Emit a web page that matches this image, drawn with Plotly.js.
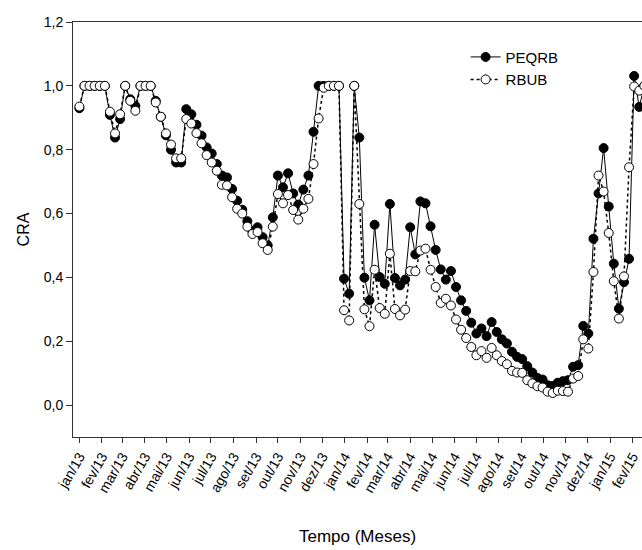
<!DOCTYPE html>
<html>
<head>
<meta charset="utf-8">
<script src="https://cdn.plot.ly/plotly-3.0.1.min.js"></script>
<style>html,body{margin:0;padding:0;background:#fff;overflow:hidden}</style>
</head>
<body>
<div id="chart" style="width:642px;height:550px"></div>
<script>
// Weekly sampling dates
const dates = [
 '2013-01-01','2013-01-08','2013-01-15','2013-01-22','2013-01-29',
 '2013-02-05','2013-02-12','2013-02-19','2013-02-26',
 '2013-03-05','2013-03-12','2013-03-19','2013-03-26',
 '2013-04-02','2013-04-09','2013-04-16','2013-04-23','2013-04-30',
 '2013-05-07','2013-05-14','2013-05-21','2013-05-28',
 '2013-06-04','2013-06-11','2013-06-18','2013-06-25',
 '2013-07-02','2013-07-09','2013-07-16','2013-07-23','2013-07-30',
 '2013-08-06','2013-08-13','2013-08-20','2013-08-27',
 '2013-09-03','2013-09-10','2013-09-17','2013-09-24',
 '2013-10-01','2013-10-08','2013-10-15','2013-10-22','2013-10-29',
 '2013-11-05','2013-11-12','2013-11-19','2013-11-26',
 '2013-12-03','2013-12-10','2013-12-17','2013-12-24','2013-12-31',
 '2014-01-07','2014-01-14','2014-01-21','2014-01-28',
 '2014-02-04','2014-02-11','2014-02-18','2014-02-25',
 '2014-03-04','2014-03-11','2014-03-18','2014-03-25',
 '2014-04-01','2014-04-08','2014-04-15','2014-04-22','2014-04-29',
 '2014-05-06','2014-05-13','2014-05-20','2014-05-27',
 '2014-06-03','2014-06-10','2014-06-17','2014-06-24',
 '2014-07-01','2014-07-08','2014-07-15','2014-07-22','2014-07-29',
 '2014-08-05','2014-08-12','2014-08-19','2014-08-26',
 '2014-09-02','2014-09-09','2014-09-16','2014-09-23','2014-09-30',
 '2014-10-07','2014-10-14','2014-10-21','2014-10-28',
 '2014-11-04','2014-11-11','2014-11-18','2014-11-25',
 '2014-12-02','2014-12-09','2014-12-16','2014-12-23','2014-12-30',
 '2015-01-06','2015-01-13','2015-01-20','2015-01-27',
 '2015-02-03','2015-02-10','2015-02-17'
];

const peqrb = [
 0.93,1.0,1.0,1.0,1.0,1.0,0.909,0.838,0.896,1.0,
 0.958,0.937,1.0,1.0,1.0,0.953,0.903,0.845,0.80,0.76,
 0.76,0.927,0.911,0.878,0.844,0.807,0.788,0.755,0.719,0.713,
 0.677,0.64,0.612,0.576,0.545,0.557,0.526,0.50,0.588,0.719,
 0.682,0.726,0.663,0.628,0.675,0.719,0.856,1.0,1.0,1.0,
 1.0,1.0,0.396,0.349,1.0,0.838,0.399,0.328,0.565,0.401,
 0.38,0.63,0.398,0.375,0.393,0.557,0.472,0.638,0.632,0.56,
 0.486,0.425,0.393,0.42,0.37,0.328,0.295,0.258,0.224,0.24,
 0.216,0.26,0.229,0.206,0.193,0.167,0.151,0.144,0.122,0.102,
 0.085,0.08,0.062,0.06,0.07,0.075,0.078,0.12,0.125,0.248,
 0.224,0.521,0.663,0.805,0.622,0.443,0.302,0.385,0.458,1.031,
 0.934,1.0
];

const rbub = [
 0.935,1.0,1.0,1.0,1.0,1.0,0.919,0.851,0.911,1.0,
 0.953,0.922,1.0,1.0,1.0,0.948,0.903,0.851,0.816,0.773,
 0.773,0.896,0.882,0.852,0.82,0.783,0.76,0.734,0.69,0.688,
 0.651,0.615,0.60,0.559,0.536,0.542,0.507,0.486,0.559,0.661,
 0.632,0.658,0.611,0.581,0.615,0.646,0.755,0.898,0.994,1.0,
 1.0,1.0,0.297,0.265,1.0,0.63,0.30,0.247,0.424,0.304,
 0.286,0.474,0.301,0.281,0.299,0.42,0.419,0.484,0.49,0.424,
 0.37,0.32,0.333,0.312,0.268,0.236,0.21,0.182,0.156,0.169,
 0.148,0.179,0.156,0.138,0.128,0.107,0.102,0.101,0.078,0.068,
 0.059,0.055,0.042,0.038,0.045,0.044,0.042,0.083,0.091,0.206,
 0.177,0.417,0.719,0.669,0.539,0.388,0.271,0.403,0.745,0.998,
 0.985,1.0
];

const monthTicks = [
 '2013-01-01','2013-02-01','2013-03-01','2013-04-01','2013-05-01','2013-06-01',
 '2013-07-01','2013-08-01','2013-09-01','2013-10-01','2013-11-01','2013-12-01',
 '2014-01-01','2014-02-01','2014-03-01','2014-04-01','2014-05-01','2014-06-01',
 '2014-07-01','2014-08-01','2014-09-01','2014-10-01','2014-11-01','2014-12-01',
 '2015-01-01','2015-02-01'
];
const monthLabels = [
 'jan/13','fev/13','mar/13','abr/13','mai/13','jun/13','jul/13','ago/13','set/13','out/13','nov/13','dez/13',
 'jan/14','fev/14','mar/14','abr/14','mai/14','jun/14','jul/14','ago/14','set/14','out/14','nov/14','dez/14',
 'jan/15','fev/15'
];

const FONT = 'Liberation Sans, Arial, Helvetica, sans-serif';

const traces = [
 {
  x: dates, y: peqrb, name: 'PEQRB', type: 'scatter', mode: 'lines+markers',
  line: {color: '#000', width: 1},
  marker: {symbol: 'circle', size: 9, color: '#000', line: {color: '#000', width: 1}}
 },
 {
  x: dates, y: rbub, name: 'RBUB', type: 'scatter', mode: 'lines+markers',
  line: {color: '#000', width: 1.5, dash: 'dot'},
  marker: {symbol: 'circle', size: 9, color: '#fff', line: {color: '#000', width: 1}}
 }
];

const layout = {
 width: 642, height: 550,
 margin: {l: 73, r: 0, t: 22, b: 113, pad: 0},
 paper_bgcolor: '#fff', plot_bgcolor: '#fff',
 separators: ',.',
 font: {family: FONT, size: 14, color: '#000'},
 showlegend: true,
 legend: {
  x: 0.69, y: 0.955, xanchor: 'left', yanchor: 'top',
  bgcolor: 'rgba(0,0,0,0)', borderwidth: 0,
  font: {family: FONT, size: 15, color: '#000'},
  tracegroupgap: 0, itemwidth: 30
 },
 xaxis: {
  type: 'date',
  range: ['2012-12-23 05:00', '2015-02-13 19:00'],
  tickmode: 'array', tickvals: monthTicks, ticktext: monthLabels,
  tickangle: -60,
  ticks: 'outside', ticklen: 5, tickwidth: 1, tickcolor: '#333',
  showline: true, linecolor: '#333', linewidth: 1, mirror: true,
  showgrid: false, zeroline: false,
  tickfont: {family: FONT, size: 14, color: '#000'},
  title: {text: 'Tempo (Meses)', font: {family: FONT, size: 17, color: '#000'}, standoff: 35}
 },
 yaxis: {
  range: [-0.1, 1.2],
  tickvals: [0, 0.2, 0.4, 0.6, 0.8, 1.0, 1.2],
  tickformat: '.1f',
  ticks: 'outside', ticklen: 6, tickwidth: 1, tickcolor: '#333',
  showline: true, linecolor: '#333', linewidth: 1,
  showgrid: false, zeroline: false,
  tickfont: {family: FONT, size: 14, color: '#000'},
  title: {text: 'CRA', font: {family: FONT, size: 16, color: '#000'}, standoff: 10}
 }
};

Plotly.newPlot('chart', traces, layout, {displayModeBar: false, staticPlot: true});
</script>
</body>
</html>
